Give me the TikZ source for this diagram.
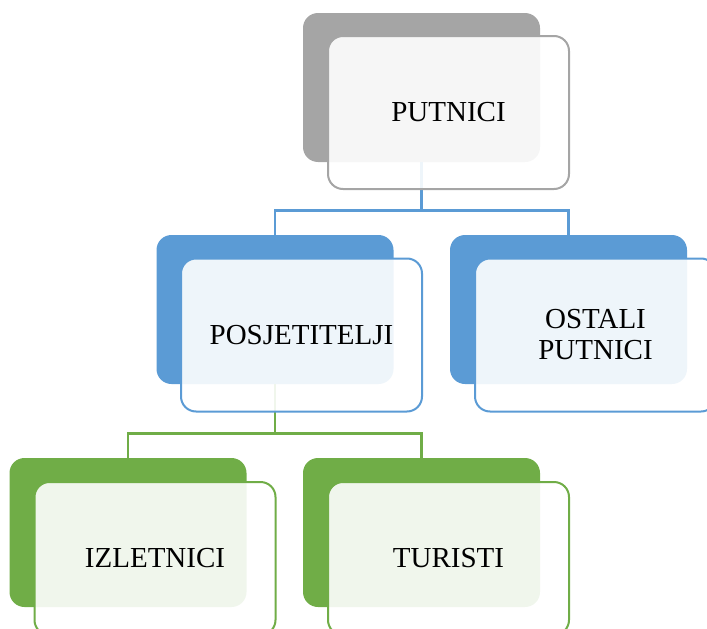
\documentclass[tikz,border=0pt]{standalone}
\usepackage{fontspec}
\setmainfont{Liberation Serif}
\definecolor{cgray}{HTML}{A5A5A5}
\definecolor{cblue}{HTML}{5B9BD5}
\definecolor{cgreen}{HTML}{70AD47}
\tikzset{
  backbox/.style={rectangle, rounded corners=15pt, minimum width=237pt, minimum height=149pt, fill=#1, draw=none, inner sep=0pt},
  frontbox/.style={rectangle, rounded corners=15pt, minimum width=241pt, minimum height=153pt, draw=#1, line width=2pt, fill=white, fill opacity=0.9, text opacity=1, inner sep=0pt, font=\fontsize{29}{31}\selectfont, align=center},
  conn/.style={draw=#1, line width=2.6pt},
}
\begin{document}
\begin{tikzpicture}[x=1pt,y=-1pt]
\useasboundingbox (0,0) rectangle (707,629);
\clip (0,0) rectangle (707,629);
% back boxes
\node[backbox=cgray]  (pb) at (421.5,87.5) {};
\node[backbox=cblue]  (sb) at (275,309.5) {};
\node[backbox=cblue]  (ob) at (568.5,309.5) {};
\node[backbox=cgreen] (ib) at (128,532.5) {};
\node[backbox=cgreen] (tb) at (421.5,532.5) {};
% connectors
\draw[conn=cblue] (pb.south) -- ++(0,48) -| (sb.north);
\draw[conn=cblue] (pb.south) -- ++(0,48) -| (ob.north);
\draw[conn=cgreen] (sb.south) -- ++(0,49) -| (ib.north);
\draw[conn=cgreen] (sb.south) -- ++(0,49) -| (tb.north);
% front boxes
\node[frontbox=cgray]  (pf) at (448.5,112.5) {PUTNICI};
\node[frontbox=cblue]  (sf) at (301.5,335) {POSJETITELJI};
\node[frontbox=cblue]  (of) at (595.5,335) {OSTALI\\PUTNICI};
\node[frontbox=cgreen] (if) at (155,558.5) {IZLETNICI};
\node[frontbox=cgreen] (tf) at (448.5,558.5) {TURISTI};
\end{tikzpicture}
\end{document}
